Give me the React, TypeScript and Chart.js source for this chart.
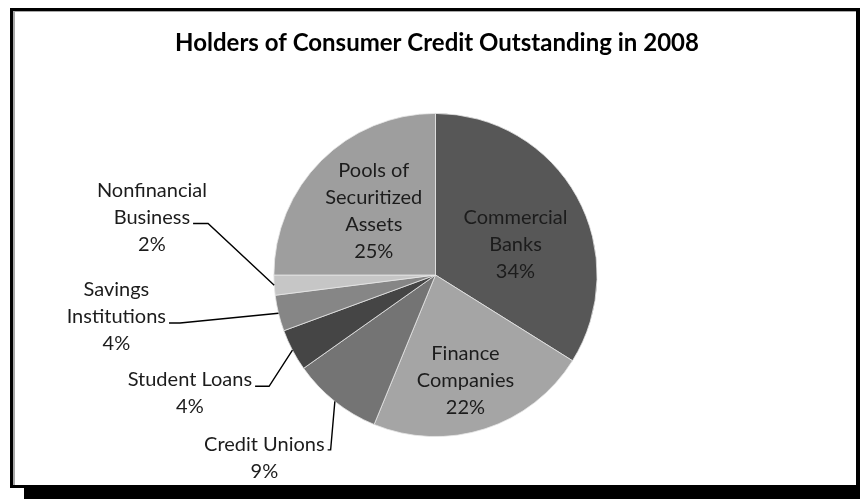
import React, { useEffect, useRef } from 'react';
import { Chart, registerables } from 'chart.js';

Chart.register(...registerables);

const TITLE = 'Holders of Consumer Credit Outstanding in 2008';

const categories = [
  'Commercial Banks',
  'Finance Companies',
  'Credit Unions',
  'Student Loans',
  'Savings Institutions',
  'Nonfinancial Business',
  'Pools of Securitized Assets',
];

const labelLines = [
  ['Commercial', 'Banks'],
  ['Finance', 'Companies'],
  ['Credit Unions'],
  ['Student Loans'],
  ['Savings', 'Institutions'],
  ['Nonfinancial', 'Business'],
  ['Pools of', 'Securitized', 'Assets'],
];

const shares = [33.9, 22.3, 9.0, 4.2, 3.6, 2.0, 25.0];

const sliceColors = ['#575757', '#a5a5a5', '#747474', '#454545', '#868686', '#c6c6c6', '#9e9e9e'];

// label placement (style): inside labels by radius fraction + angle nudge,
// outside labels by offset in radius units, with leader-line tail settings
type Placement =
  | { inside: true; rf: number; da: number }
  | { inside: false; ox: number; oy: number; attach: number; tail: number; dy: number };

const placements: Placement[] = [
  { inside: true, rf: 0.53, da: 8 },
  { inside: true, rf: 0.68, da: 2 },
  { inside: false, ox: -1.059, oy: 1.135, attach: 0, tail: 3, dy: 5 },
  { inside: false, ox: -1.52, oy: 0.732, attach: 0, tail: 14, dy: 6.5 },
  { inside: false, ox: -1.975, oy: 0.26, attach: 1, tail: 11, dy: 6 },
  { inside: false, ox: -1.755, oy: -0.356, attach: 1, tail: 15, dy: 6 },
  { inside: true, rf: 0.55, da: 1 },
];

const FONT = 'Lato, "Open Sans", sans-serif';
const LABEL_SIZE = 20;
const LINE_H = 27;
const TITLE_SIZE = 24;

const labelPlugin = {
  id: 'sliceLabels',
  afterDatasetsDraw(chart: any) {
    const ctx = chart.ctx as CanvasRenderingContext2D;
    const meta = chart.getDatasetMeta(0);
    const total = shares.reduce((a, b) => a + b, 0);
    ctx.save();
    ctx.font = `${LABEL_SIZE}px ${FONT}`;
    ctx.fillStyle = '#1c1c1c';
    ctx.strokeStyle = '#000';
    ctx.lineWidth = 1.4;
    ctx.textAlign = 'center';
    ctx.textBaseline = 'middle';
    meta.data.forEach((arc: any, i: number) => {
      const { x, y, startAngle, endAngle, outerRadius } = arc.getProps(
        ['x', 'y', 'startAngle', 'endAngle', 'outerRadius'],
        true
      );
      const mid = (startAngle + endAngle) / 2;
      const lines = [...labelLines[i], Math.round((shares[i] / total) * 100) + '%'];
      const p = placements[i];
      let cx: number;
      let cy: number;
      if (p.inside) {
        const a = mid + (p.da * Math.PI) / 180;
        cx = x + Math.cos(a) * outerRadius * p.rf;
        cy = y + Math.sin(a) * outerRadius * p.rf;
      } else {
        cx = x + p.ox * outerRadius;
        cy = y + p.oy * outerRadius;
      }
      const top = cy - ((lines.length - 1) * LINE_H) / 2;
      lines.forEach((t, k) => ctx.fillText(t, cx, top + k * LINE_H));
      if (!p.inside) {
        const ly = top + p.attach * LINE_H + p.dy;
        const w = ctx.measureText(lines[p.attach]).width;
        const x0 = cx + w / 2 + 3;
        const x1 = x0 + p.tail;
        const rx = x + Math.cos(mid) * outerRadius;
        const ry = y + Math.sin(mid) * outerRadius;
        ctx.beginPath();
        ctx.moveTo(x0, ly);
        ctx.lineTo(x1, ly);
        ctx.lineTo(rx, ry);
        ctx.stroke();
      }
    });
    // chart title, centred over the pie
    const area = chart.chartArea;
    ctx.font = `bold ${TITLE_SIZE}px ${FONT}`;
    ctx.fillStyle = '#000';
    ctx.textAlign = 'center';
    ctx.textBaseline = 'alphabetic';
    ctx.fillText(TITLE, (area.left + area.right) / 2 + 1.5, 51);
    ctx.restore();
  },
};

export default function App() {
  const ref = useRef<HTMLCanvasElement | null>(null);

  useEffect(() => {
    if (!ref.current) return;
    const chart = new Chart(ref.current, {
      type: 'pie',
      data: {
        labels: categories,
        datasets: [
          {
            data: shares,
            backgroundColor: sliceColors,
            borderColor: '#e6e6e6',
            borderWidth: 0.8,
          },
        ],
      },
      options: {
        animation: false,
        responsive: false,
        maintainAspectRatio: false,
        layout: { padding: { left: 273.5, right: 262.5, top: 113, bottom: 62 } },
        plugins: {
          legend: { display: false },
          tooltip: { enabled: false },
          title: { display: false },
        },
      },
      plugins: [labelPlugin],
    });
    return () => chart.destroy();
  }, []);

  return (
    <div
      style={{
        position: 'absolute',
        left: 0,
        top: 0,
        width: 860,
        height: 499,
        background: '#fff',
        overflow: 'hidden',
      }}
    >
      <div
        style={{
          position: 'absolute',
          left: 10,
          top: 8,
          width: 850,
          height: 480,
          boxSizing: 'border-box',
          border: '3px solid #000',
          borderRightWidth: 4,
          background: '#fff',
          boxShadow: 'inset 2px 1px 0 #a8a8a8',
        }}
      />
      <div
        style={{
          position: 'absolute',
          left: 24,
          top: 485,
          width: 836,
          height: 14,
          background: '#000',
        }}
      />
      <canvas
        ref={ref}
        width={860}
        height={499}
        style={{ position: 'absolute', left: 0, top: 0, width: 860, height: 499 }}
      />
    </div>
  );
}
